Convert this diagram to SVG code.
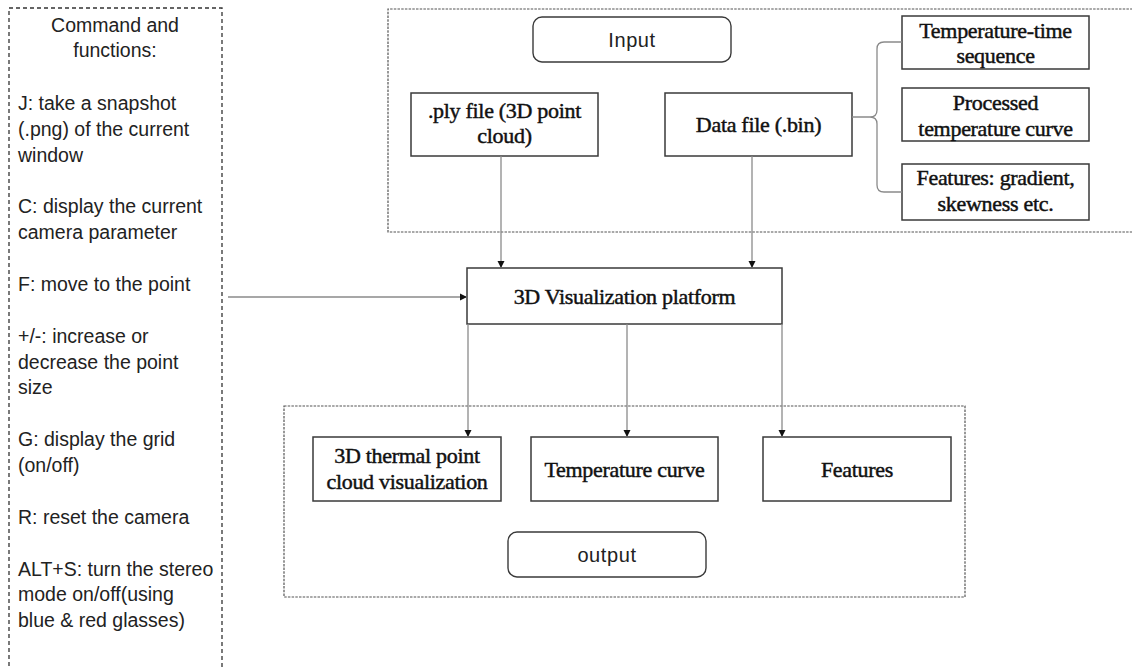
<svg xmlns="http://www.w3.org/2000/svg" width="1132" height="668" viewBox="0 0 1132 668">
<style>
.box{fill:#fff;stroke:#3a3a3a;stroke-width:1.5}
.rbox{fill:#fff;stroke:#3a3a3a;stroke-width:1.4}
.grp{fill:none;stroke:#555;stroke-width:1.2;stroke-dasharray:2.5 1.2}
.cmd{fill:none;stroke:#333;stroke-width:1.3;stroke-dasharray:4 3}
.ser{font-family:"Liberation Serif","Times New Roman",serif;font-size:22px;fill:#111;text-anchor:middle;stroke:#111;stroke-width:0.45;letter-spacing:-0.3px}
.san{font-family:"Liberation Sans",Arial,sans-serif;font-size:19.5px;fill:#222}
.lbl{font-size:20px;letter-spacing:0.6px}
.mid{text-anchor:middle}
.con{fill:none;stroke:#8a8a8a;stroke-width:1.3}
</style>
<defs>
<marker id="ah" markerWidth="8" markerHeight="8" refX="7" refY="4" orient="auto" markerUnits="userSpaceOnUse">
<path d="M0,0.5 L7,4 L0,7.5 Z" fill="#111"/>
</marker>
</defs>
<rect width="1132" height="668" fill="#fff"/>

<g id="commands">
<path class="cmd" d="M9,680 V8 H222 V680"/>
<text class="san mid" x="115" y="32">Command and</text>
<text class="san mid" x="115" y="57">functions:</text>
<text class="san" x="18" y="110">J: take a snapshot</text>
<text class="san" x="18" y="136">(.png) of the current</text>
<text class="san" x="18" y="162">window</text>
<text class="san" x="18" y="213">C: display the current</text>
<text class="san" x="18" y="239">camera parameter</text>
<text class="san" x="18" y="291">F: move to the point</text>
<text class="san" x="18" y="343">+/-: increase or</text>
<text class="san" x="18" y="369">decrease the point</text>
<text class="san" x="18" y="394">size</text>
<text class="san" x="18" y="446">G: display the grid</text>
<text class="san" x="18" y="472">(on/off)</text>
<text class="san" x="18" y="524">R: reset the camera</text>
<text class="san" x="18" y="576">ALT+S: turn the stereo</text>
<text class="san" x="18" y="601">mode on/off(using</text>
<text class="san" x="18" y="627">blue &amp; red glasses)</text>
</g>

<g id="input-group">
<path class="grp" d="M1140,9 H388 V232 H1140"/>
</g>
<g id="input-label">
<rect class="rbox" x="533" y="17" width="198" height="45" rx="9"/>
<text class="san lbl mid" x="632" y="47">Input</text>
</g>
<g id="ply">
<rect class="box" x="411" y="93" width="187" height="63"/>
<text class="ser" x="504.5" y="118">.ply file (3D point</text>
<text class="ser" x="504.5" y="143">cloud)</text>
</g>
<g id="data">
<rect class="box" x="665" y="93" width="187" height="63"/>
<text class="ser" x="758.5" y="132">Data file (.bin)</text>
</g>
<g id="temp-time">
<rect class="box" x="902" y="16" width="187" height="53"/>
<text class="ser" x="995.5" y="38">Temperature-time</text>
<text class="ser" x="995.5" y="63">sequence</text>
</g>
<g id="processed">
<rect class="box" x="902" y="88" width="187" height="53"/>
<text class="ser" x="995.5" y="110">Processed</text>
<text class="ser" x="995.5" y="136">temperature curve</text>
</g>
<g id="features-in">
<rect class="box" x="902" y="164" width="187" height="56"/>
<text class="ser" x="995.5" y="185">Features: gradient,</text>
<text class="ser" x="995.5" y="211">skewness etc.</text>
</g>

<g id="viz">
<rect class="box" x="467" y="268" width="315" height="56"/>
<text class="ser" x="624.5" y="304">3D Visualization platform</text>
</g>

<g id="output-group">
<rect class="grp" x="284" y="406" width="681" height="191"/>
</g>
<g id="thermal">
<rect class="box" x="313" y="437" width="188" height="64"/>
<text class="ser" x="407" y="463">3D thermal point</text>
<text class="ser" x="407" y="489">cloud visualization</text>
</g>
<g id="temp-curve">
<rect class="box" x="531" y="437" width="187" height="64"/>
<text class="ser" x="624.5" y="477">Temperature curve</text>
</g>
<g id="features-out">
<rect class="box" x="763" y="437" width="188" height="64"/>
<text class="ser" x="857" y="477">Features</text>
</g>
<g id="output-label">
<rect class="rbox" x="508" y="532" width="198" height="45" rx="9"/>
<text class="san lbl mid" x="607" y="562">output</text>
</g>

<g id="connectors">
<path class="con" d="M501,156 V268" marker-end="url(#ah)"/>
<path class="con" d="M752,156 V268" marker-end="url(#ah)"/>
<path class="con" d="M228,297 H467" marker-end="url(#ah)"/>
<path class="con" d="M468,324 V437" marker-end="url(#ah)"/>
<path class="con" d="M627,324 V437" marker-end="url(#ah)"/>
<path class="con" d="M782,324 V437" marker-end="url(#ah)"/>
<path class="con" d="M852,117 H870 Q877,117 877,110 V49 Q877,42 884,42 H902 M870,117 Q877,117 877,124 V185 Q877,192 884,192 H902"/>
</g>
</svg>
